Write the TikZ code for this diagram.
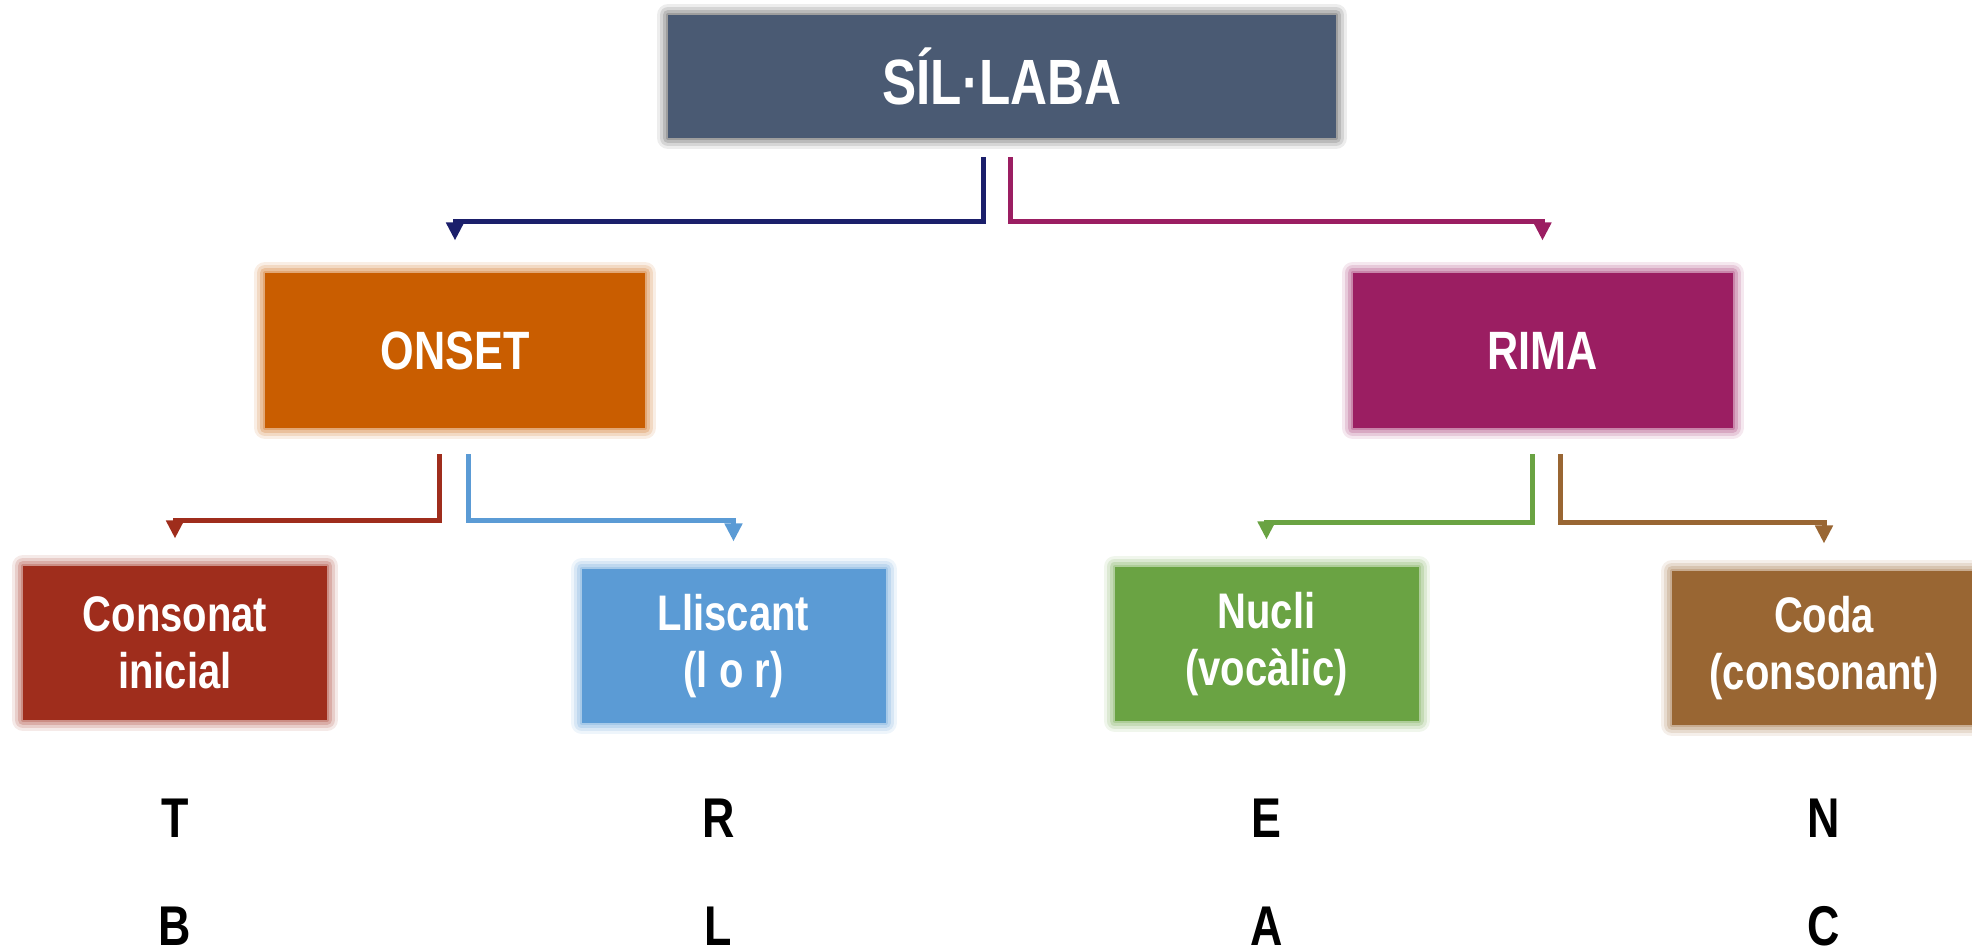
\documentclass[tikz,border=0pt]{standalone}
\usepackage{fontspec}
\setmainfont{Liberation Sans}[FakeStretch=0.8]
\usetikzlibrary{arrows.meta}
\usetikzlibrary{positioning}

\definecolor{slate}{RGB}{74,90,115}
\definecolor{onsetorange}{RGB}{201,93,0}
\definecolor{rimapurple}{RGB}{155,30,98}
\definecolor{consred}{RGB}{159,45,28}
\definecolor{llisblue}{RGB}{91,155,213}
\definecolor{nuclgreen}{RGB}{106,163,67}
\definecolor{codabrown}{RGB}{153,102,51}
\definecolor{navyline}{RGB}{27,31,107}

\begin{document}
\begin{tikzpicture}[>={Triangle[width=8.5pt,length=9pt]},line width=2.5pt,on grid]
\tikzset{glow/.style={line join=round,
  preaction={draw=#1,draw opacity=0.1,line width=11pt},
  preaction={draw=#1,draw opacity=0.15,line width=8pt},
  preaction={draw=#1,draw opacity=0.2,line width=5pt},
  preaction={draw=#1,draw opacity=0.25,line width=2pt}}}
\tikzstyle{box}=[rectangle,inner sep=0pt,text=white,align=center]
\tikzstyle{top}=[box,minimum width=334pt,minimum height=61.5pt,font=\fontsize{32}{36}\selectfont\bfseries]
\tikzstyle{mid}=[box,minimum width=190pt,minimum height=77.5pt,font=\fontsize{27}{31}\selectfont\bfseries]
\tikzstyle{leaf}=[box,minimum width=152pt,minimum height=77pt,font=\fontsize{25}{28.5}\selectfont\bfseries]
\tikzstyle{letter}=[inner sep=0pt,font=\fontsize{28}{32}\selectfont\bfseries]
\tikzstyle{link}=[->,shorten <=12pt,shorten >=12.5pt]
\useasboundingbox (0,0) rectangle (986pt,-475.5pt);
\node[top, fill=slate, glow=black!70]	(sil)	at (501pt,-38.25pt)	{SÍL·LABA};
\node[mid, fill=onsetorange, glow=onsetorange]	(onset)	[below left = 137pt and 273.5pt of sil]	{ONSET};
\node[mid, fill=rimapurple, glow=rimapurple]	(rima)	[below right = 137pt and 270.25pt of sil]	{RIMA};
\node[leaf, fill=consred, glow=consred]	(cons)	[below left = 146.25pt and 140pt of onset]	{Consonat\\inicial};
\node[leaf, fill=llisblue, glow=llisblue]	(llis)	[below right = 147.75pt and 139.25pt of onset]	{Lliscant\\(l o r)};
\node[leaf, fill=nuclgreen, glow=nuclgreen]	(nucl)	[below left = 146.75pt and 138pt of rima]	{Nucli\\(vocàlic)};
\node[leaf, fill=codabrown, glow=codabrown]	(coda)	[below right = 148.75pt and 140.75pt of rima]	{Coda\\(consonant)};
% examples
\node[letter]	(t)	[below = 87.5pt of cons]	{T};
\node[letter]	(b)	[below = 54pt of t]	{B};
\node[letter]	(r)	[below = 86pt of llis, xshift=-7.5pt]	{R};
\node[letter]	(l)	[below = 54pt of r]	{L};
\node[letter]	(e)	[below = 87pt of nucl]	{E};
\node[letter]	(a)	[below = 54pt of e]	{A};
\node[letter]	(n)	[below = 85pt of coda]	{N};
\node[letter]	(c)	[below = 54pt of n]	{C};
\draw[link, navyline, shorten <=8.5pt, shorten >=15pt]	([xshift=-9.5pt]sil.south)	-- ++(0,-40.5pt) -| (onset.north);
\draw[link, rimapurple, shorten <=8.5pt, shorten >=15pt]	([xshift=4pt]sil.south)	-- ++(0,-40.5pt) -| (rima.north);
\draw[link, consred]	([xshift=-8pt]onset.south)	-- ++(0,-45pt) -| (cons.north);
\draw[link, llisblue]	([xshift=6.5pt]onset.south)	-- ++(0,-45pt) -| (llis.north);
\draw[link, nuclgreen]	([xshift=-5.25pt]rima.south)	-- ++(0,-46pt) -| (nucl.north);
\draw[link, codabrown]	([xshift=8.75pt]rima.south)	-- ++(0,-46pt) -| (coda.north);
\end{tikzpicture}
\end{document}
